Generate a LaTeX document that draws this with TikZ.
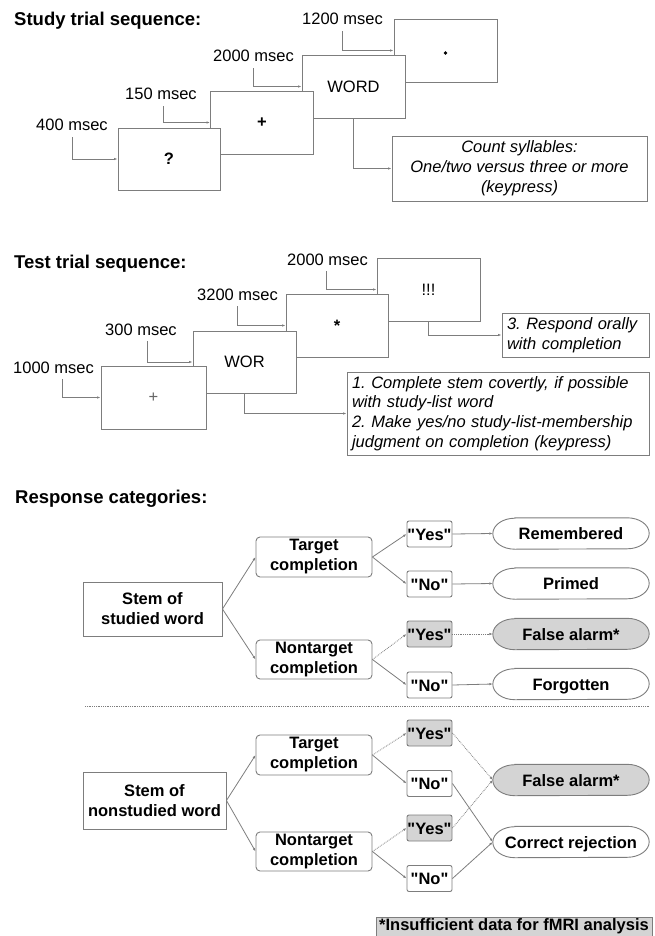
\documentclass[tikz,border=0pt]{standalone}
\usepackage{fontspec}
\setmainfont{Liberation Sans}[Ligatures=TeXOff]
\usetikzlibrary{arrows.meta,calc,backgrounds}
\definecolor{lc}{RGB}{125,125,125}
\definecolor{shadegray}{RGB}{212,212,212}
\newcommand\nf{\fontsize{16.5}{20}\selectfont}
\newcommand\tf{\fontsize{18.5}{22}\selectfont\bfseries}
\newcommand\pillpath[2]{%
  \draw[draw=lc, line width=0.9pt, fill=#2]
    ($(#1.north west)+(22pt,0)$) -- ($(#1.north east)+(-22pt,0)$)
    arc[start angle=90,end angle=-90,x radius=22pt,y radius=15.5pt]
    -- ($(#1.south west)+(22pt,0)$)
    arc[start angle=270,end angle=90,x radius=22pt,y radius=15.5pt] -- cycle;}
\frenchspacing
\begin{document}
\begin{tikzpicture}[x=1pt,y=-1pt,
  every node/.style={font=\nf},
  title/.style={anchor=base west, inner sep=0pt, font=\tf},
  lab/.style={anchor=base west, inner xsep=0pt, inner ysep=6pt},
  screen/.style={draw=lc, line width=0.9pt, fill=white, minimum width=103pt, minimum height=63pt, inner sep=0pt},
  instr/.style={draw=lc, line width=0.9pt, fill=white, inner sep=0pt},
  conn/.style={draw=lc, line width=0.8pt, -{Latex[length=3.5pt,width=2.5pt]}},
  dconn/.style={conn, densely dotted},
  stembox/.style={draw=lc, line width=0.9pt, font=\nf\bfseries, align=center, inner sep=0pt},
  comp/.style={stembox, rounded corners=4pt, minimum width=116pt, minimum height=40pt},
  yn/.style={draw=lc, line width=0.9pt, font=\nf\bfseries, rounded corners=2pt, minimum width=45pt, minimum height=26pt, inner sep=0pt, text height=12pt, text depth=0pt},
  ynshade/.style={yn, fill=shadegray},
  pill/.style={font=\nf\bfseries, minimum width=156pt, minimum height=31pt, inner sep=0pt, text height=12pt, text depth=0pt}
]
\useasboundingbox (0,0) rectangle (655,936);

% ---------------- Study trial sequence ----------------
\node[title] (t1) at (14,26) {Study trial sequence:};

\node[screen] (sdot) at (445.5,50.5) {};
\node[circle, fill=black, inner sep=0pt, minimum size=3.6pt] (sdotc) at (445.5,53) {};
\node[screen, font=\nf] (sword) at (353.5,86.5) {WORD};
\node[screen, font=\nf\bfseries] (splus) at (262,122.5) {+};
\node[screen, font=\nf\bfseries, minimum width=102pt, minimum height=62pt] (sq) at (169,159) {?};

\node[instr, font=\nf\itshape, minimum width=255pt, minimum height=65pt, align=center] (sinstr) at (519.5,168.5)
  {Count syllables:\\One/two versus three or more\\(keypress)};

\node[lab] (l400) at (36,131) {400 msec};
\node[lab] (l150) at (125,100) {150 msec};
\node[lab] (l2000) at (213,62) {2000 msec};
\node[lab] (l1200) at (302,25) {1200 msec};

\draw[conn] (l400.south) |- (sq.west);
\draw[conn] ([xshift=2pt]l150.south) |- (splus.west);
\draw[conn] (l2000.south) |- (sword.west);
\draw[conn] (l1200.south) |- (sdot.west);
\draw[conn] (sword.south) |- (sinstr.west);

% ---------------- Test trial sequence ----------------
\node[title] (t2) at (14,268) {Test trial sequence:};

\node[screen] (tbang) at (428.5,289.5) {!!!};
\node[screen, font=\nf\bfseries, minimum width=102pt] (tstar) at (337,325.5) {*};
\node[screen, minimum height=62pt] (twor) at (244.5,362) {WOR};
\node[screen, minimum width=105pt] (tplus) at (153.5,397.5) {\textcolor{black!60}{+}};

\node[instr, font=\fontsize{16.5}{19.7}\selectfont\itshape, minimum width=302pt, minimum height=83pt, text width=292pt, inner xsep=5pt, align=left] (tinstr) at (498,413.5)
  {1. Complete stem covertly, if possible\\with study-list word\\2. Make yes/no study-list-membership\\judgment on completion (keypress)};
\node[instr, font=\nf\itshape, minimum width=147pt, minimum height=44pt, text width=137pt, inner xsep=5pt, align=left] (tresp) at (575.5,335)
  {3. Respond orally\\with completion};

\node[lab] (l1000) at (13,373) {1000 msec};
\node[lab] (l300) at (105,335) {300 msec};
\node[lab] (l3200) at (197,300) {3200 msec};
\node[lab] (l2000b) at (287,265) {2000 msec};

\draw[conn] ([xshift=8.5pt]l1000.south) |- (tplus.west);
\draw[conn] ([xshift=6pt]l300.south) |- (twor.west);
\draw[conn] (l3200.south) |- (tstar.west);
\draw[conn] ([xshift=-1pt]l2000b.south) |- (tbang.west);
\draw[conn] (twor.south) |- (tinstr.west);
\draw[conn] (tbang.south) |- (tresp.west);

% ---------------- Response categories ----------------
\node[title] (t3) at (15,503) {Response categories:};

\node[stembox, minimum width=139pt, minimum height=54pt] (stem1) at (152.5,609) {Stem of\\studied word};
\node[comp] (tg1) at (314,557) {Target\\completion};
\node[comp, minimum height=39pt] (nt1) at (314,659.5) {Nontarget\\completion};
\node[yn] (yes1) at (429.5,534) {"Yes"};
\node[yn] (no1) at (429.5,584) {"No"};
\node[ynshade] (yes2) at (429.5,634) {"Yes"};
\node[yn] (no2) at (429.5,685) {"No"};
\node[pill] (rem) at (571,533.5) {Remembered};
\node[pill] (prim) at (571,583.5) {Primed};
\node[pill] (fa1) at (571,634) {False alarm*};
\node[pill] (forg) at (571,684) {Forgotten};

\coordinate (sepL) at (85,706);
\coordinate (sepR) at (650,706);
\draw[lc, densely dotted, line width=0.8pt] (sepL) -- (sepR);

\node[stembox, minimum width=143pt, minimum height=57pt] (stem2) at (154.5,800.5) {Stem of\\nonstudied word};
\node[comp] (tg2) at (314,755) {Target\\completion};
\node[comp, minimum height=39pt] (nt2) at (314,851.5) {Nontarget\\completion};
\node[ynshade] (yes3) at (429.5,733) {"Yes"};
\node[yn] (no3) at (429.5,783.5) {"No"};
\node[ynshade] (yes4) at (429.5,828) {"Yes"};
\node[yn] (no4) at (429.5,878.5) {"No"};
\node[pill] (fa2) at (571,780) {False alarm*};
\node[pill] (cr) at (571,842) {Correct rejection};

\begin{scope}[on background layer]
  \pillpath{rem}{white}
  \pillpath{prim}{white}
  \pillpath{fa1}{shadegray}
  \pillpath{forg}{white}
  \pillpath{fa2}{shadegray}
  \pillpath{cr}{white}
\end{scope}

\draw[conn] (stem1.east) -- (tg1.west);
\draw[conn] (stem1.east) -- (nt1.west);
\draw[conn] (tg1.east) -- (yes1.west);
\draw[conn] (tg1.east) -- (no1.west);
\draw[dconn] (nt1.east) -- (yes2.west);
\draw[conn] (nt1.east) -- (no2.west);
\draw[conn] (yes1.east) -- (rem.west);
\draw[conn] (no1.east) -- (prim.west);
\draw[dconn] (yes2.east) -- (fa1.west);
\draw[conn] (no2.east) -- (forg.west);

\draw[conn] (stem2.east) -- (tg2.west);
\draw[conn] (stem2.east) -- (nt2.west);
\draw[dconn] (tg2.east) -- (yes3.west);
\draw[conn] (tg2.east) -- (no3.west);
\draw[dconn] (nt2.east) -- (yes4.west);
\draw[conn] (nt2.east) -- (no4.west);
\draw[dconn] (yes3.east) -- (fa2.west);
\draw[dconn] (yes4.east) -- (fa2.west);
\draw[conn] (no3.east) -- (cr.west);
\draw[conn] (no4.east) -- (cr.west);

\node[draw=lc, line width=0.9pt, fill=shadegray, font=\nf\bfseries, minimum width=276pt, minimum height=19pt, inner sep=0pt] (foot) at (514,926.5) {*Insufficient data for fMRI analysis};
\end{tikzpicture}
\end{document}
